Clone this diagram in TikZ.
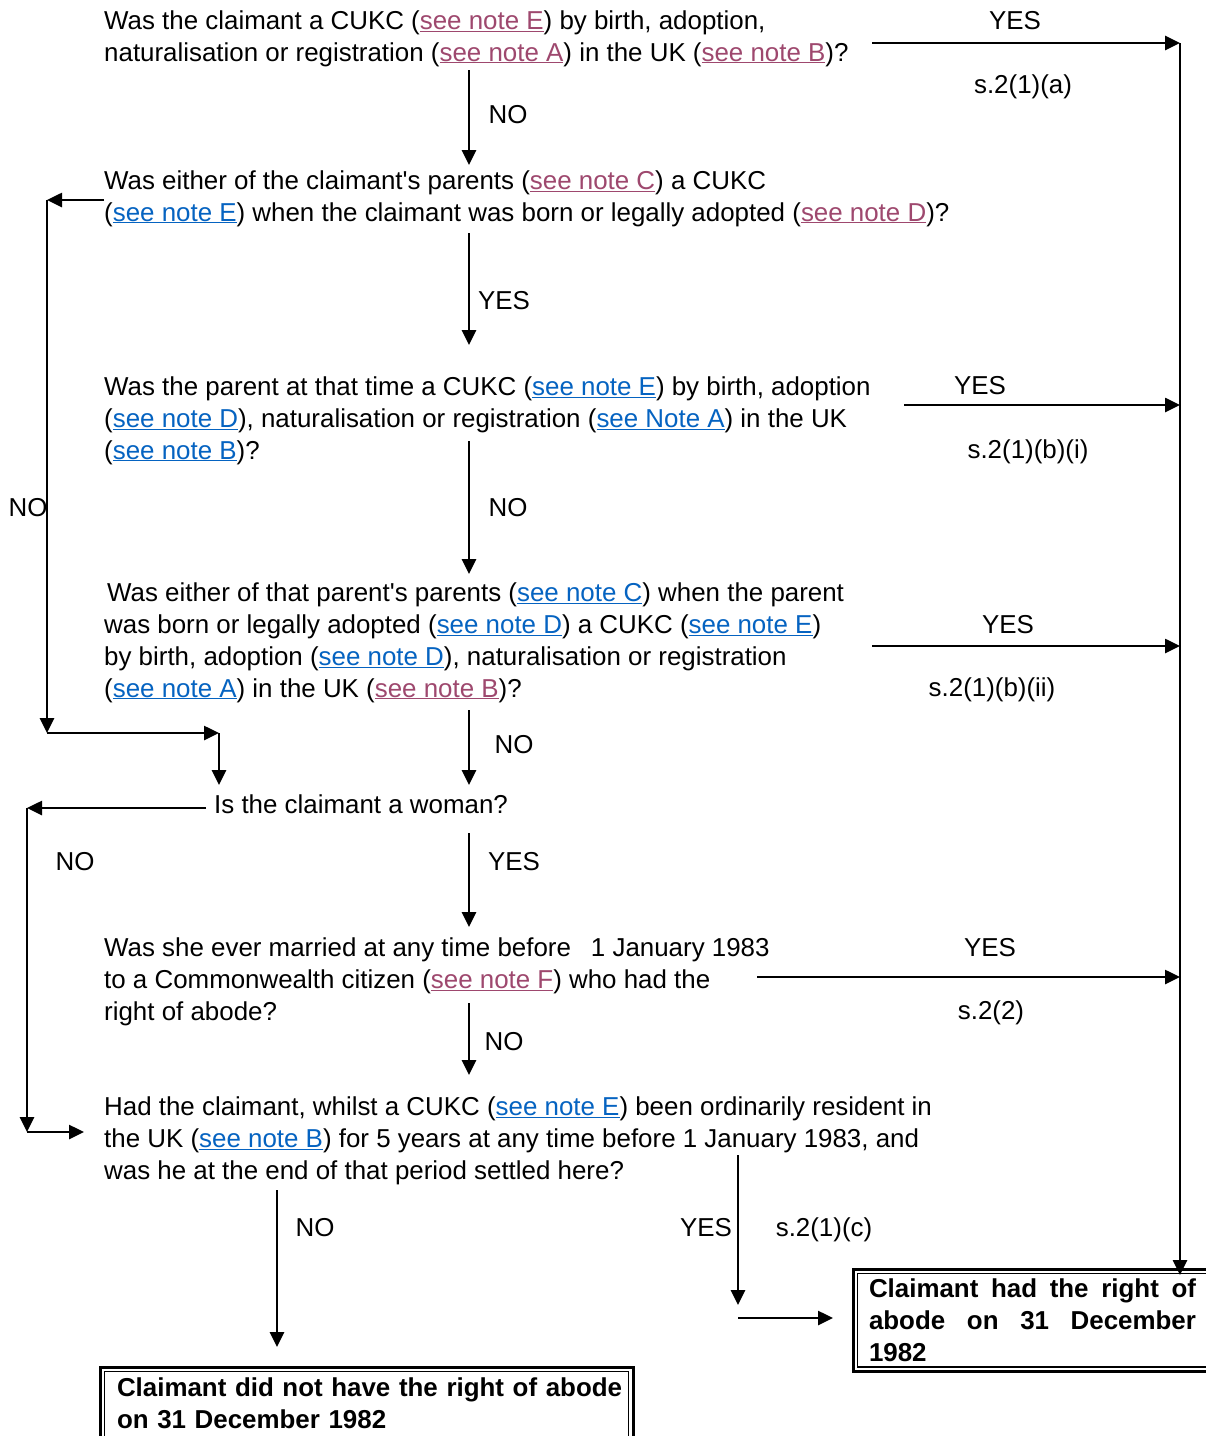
\documentclass[tikz,border=0pt]{standalone}
\usepackage{fontspec}
\setmainfont{Liberation Sans}
\usepackage{tikz}
\usetikzlibrary{arrows.meta,calc}
\definecolor{notemaroon}{RGB}{158,72,110}
\definecolor{noteblue}{RGB}{5,99,193}
\newcommand{\qfont}{\fontsize{25.9}{31.8}\selectfont}
\newcommand{\noteM}[1]{\textcolor{notemaroon}{\underline{#1}}}
\newcommand{\noteB}[1]{\textcolor{noteblue}{\underline{#1}}}
\tikzset{
	question/.style={anchor=base west, inner sep=0pt, align=left, font=\qfont},
	answer/.style={anchor=base, inner sep=0pt, font=\qfont},
	flow/.style={line width=2.6pt, -{Triangle[length=15pt,width=14pt]}},
	result/.style={anchor=north west, draw, line width=3pt, outer sep=0pt, inner xsep=16pt, inner ysep=11pt, font=\qfont\bfseries, execute at begin node={\hyphenpenalty=10000\tolerance=10000}},
	inner border/.style={line width=1.3pt}
}

\begin{document}
\begin{tikzpicture}[x=1pt, y=-1pt]
		\path[fill=white, use as bounding box] (0, 0) rectangle (1206, 1436);
		
		\node (q1) at (104, 61) [question] {Was the claimant a CUKC (\noteM{see note E}) by birth, adoption,\\naturalisation or registration (\noteM{see note A}) in the UK (\noteM{see note B})?};
		\node (q2) at (104, 221) [question] {Was either of the claimant\textquotesingle s parents (\noteM{see note C}) a CUKC\\(\noteB{see note E}) when the claimant was born or legally adopted (\noteM{see note D})?};
		\node (q3) at (104, 459) [question] {Was the parent at that time a CUKC (\noteB{see note E}) by birth, adoption\\(\noteB{see note D}), naturalisation or registration (\noteB{see Note A}) in the UK\\(\noteB{see note B})?};
		\node (q4) at (104, 697) [question] {\hspace{3pt}Was either of that parent\textquotesingle s parents (\noteB{see note C}) when the parent\\was born or legally adopted (\noteB{see note D}) a CUKC (\noteB{see note E})\\by birth, adoption (\noteB{see note D}), naturalisation or registration\\(\noteB{see note A}) in the UK (\noteM{see note B})?};
		\node (q5) at (214, 813) [question] {Is the claimant a woman?};
		\node (q6) at (104, 1020) [question] {Was she ever married at any time before\hspace{20pt}1 January 1983\\to a Commonwealth citizen (\noteM{see note F}) who had the\\right of abode?};
		\node (q7) at (104, 1179) [question] {Had the claimant, whilst a CUKC (\noteB{see note E}) been ordinarily resident in\\the UK (\noteB{see note B}) for 5 years at any time before 1 January 1983, and\\was he at the end of that period settled here?};
		
		\node (yesbox) at (853, 1269) [result, text width=327pt, inner ysep=10pt, align=justify] {Claimant had the right of abode on 31 December 1982};
		\node (nobox) at (100, 1367) [result, text width=499pt, inner xsep=17pt, align=left] {\mbox{Claimant did not have the right of abode}\\on 31 December 1982\rule[-20pt]{0pt}{1pt}};
		\draw[inner border] ($(yesbox.north west)+(4.5, 4.5)$) rectangle ($(yesbox.south east)+(-4.5, -4.5)$);
		\draw[inner border] ($(nobox.north west)+(4.5, 4.5)$) rectangle ($(nobox.south east)+(-4.5, -4.5)$);
		
		\node (yes1) at (1015, 29) [answer] {YES};
		\node (sec1) at (1023, 93) [answer] {s.2(1)(a)};
		\node (no1) at (508, 123) [answer] {NO};
		\node (yes2) at (504, 309) [answer] {YES};
		\node (yes3) at (980, 394) [answer] {YES};
		\node (sec3) at (1028, 458) [answer] {s.2(1)(b)(i)};
		\node (no3) at (508, 516) [answer] {NO};
		\node (no2) at (28, 516) [answer] {NO};
		\node (yes4) at (1008, 633) [answer] {YES};
		\node (sec4) at (992, 696) [answer] {s.2(1)(b)(ii)};
		\node (no4) at (514, 753) [answer] {NO};
		\node (no5) at (75, 870) [answer] {NO};
		\node (yes5) at (514, 870) [answer] {YES};
		\node (yes6) at (990, 956) [answer] {YES};
		\node (sec6) at (991, 1019) [answer] {s.2(2)};
		\node (no6) at (504, 1050) [answer] {NO};
		\node (no7) at (315, 1236) [answer] {NO};
		\node (yes7) at (706, 1236) [answer] {YES};
		\node (sec7) at (824, 1236) [answer] {s.2(1)(c)};
		
		\coordinate (q1yes) at (872, 43);
		\coordinate (trunk1) at (1180, 43);
		\coordinate (q3yes) at (904, 405);
		\coordinate (trunk3) at (1180, 405);
		\coordinate (q4yes) at (872, 646);
		\coordinate (trunk4) at (1180, 646);
		\coordinate (q6yes) at (757, 977);
		\coordinate (trunk6) at (1180, 977);
		\draw[flow] (q1yes) -- (trunk1);
		\draw[flow] (q3yes) -- (trunk3);
		\draw[flow] (q4yes) -- (trunk4);
		\draw[flow] (q6yes) -- (trunk6);
		\draw[flow, shorten >=-6pt] (trunk1) -- (trunk1 |- yesbox.north);
		
		\coordinate (q1no) at (469, 70);
		\coordinate (q2in) at (469, 165);
		\coordinate (q2yes) at (469, 233);
		\coordinate (q3in) at (469, 345);
		\coordinate (q3no) at (469, 441);
		\coordinate (q4in) at (469, 574);
		\coordinate (q4no) at (469, 710);
		\coordinate (q5in) at (469, 785);
		\coordinate (q5yes) at (469, 833);
		\coordinate (q6in) at (469, 927);
		\coordinate (q6no) at (469, 1003);
		\coordinate (q7in) at (469, 1075);
		\draw[flow] (q1no) -- (q2in);
		\draw[flow] (q2yes) -- (q3in);
		\draw[flow] (q3no) -- (q4in);
		\draw[flow] (q4no) -- (q5in);
		\draw[flow] (q5yes) -- (q6in);
		\draw[flow] (q6no) -- (q7in);
		
		\coordinate (q2no) at (104, 200);
		\coordinate (left2) at (47, 200);
		\coordinate (left2end) at (47, 733);
		\coordinate (join) at (219, 733);
		\coordinate (q5top) at (219, 785);
		\draw[flow] (q2no) -- (left2);
		\draw[flow] (left2) -- (left2end);
		\draw[flow] (left2end) -- (join);
		\draw[flow] (join) -- (q5top);
		
		\coordinate (q5no) at (206, 808);
		\coordinate (left5) at (27, 808);
		\coordinate (left5end) at (27, 1132);
		\coordinate (q7left) at (84, 1132);
		\draw[flow] (q5no) -- (left5);
		\draw[flow] (left5) -- (left5end);
		\draw[flow] (left5end) -- (q7left);
		
		\coordinate (q7no) at (277, 1190);
		\coordinate (q7yes) at (738, 1155);
		\coordinate (q7yesend) at (738, 1305);
		\coordinate (yesturn) at (738, 1318);
		\draw[flow] (q7no) -- (q7no |- 0, 1347);
		\draw[flow] (q7yes) -- (q7yesend);
		\draw[flow] (yesturn) -- (yesturn -| 833, 0);
		
	\end{tikzpicture}
\end{document}
